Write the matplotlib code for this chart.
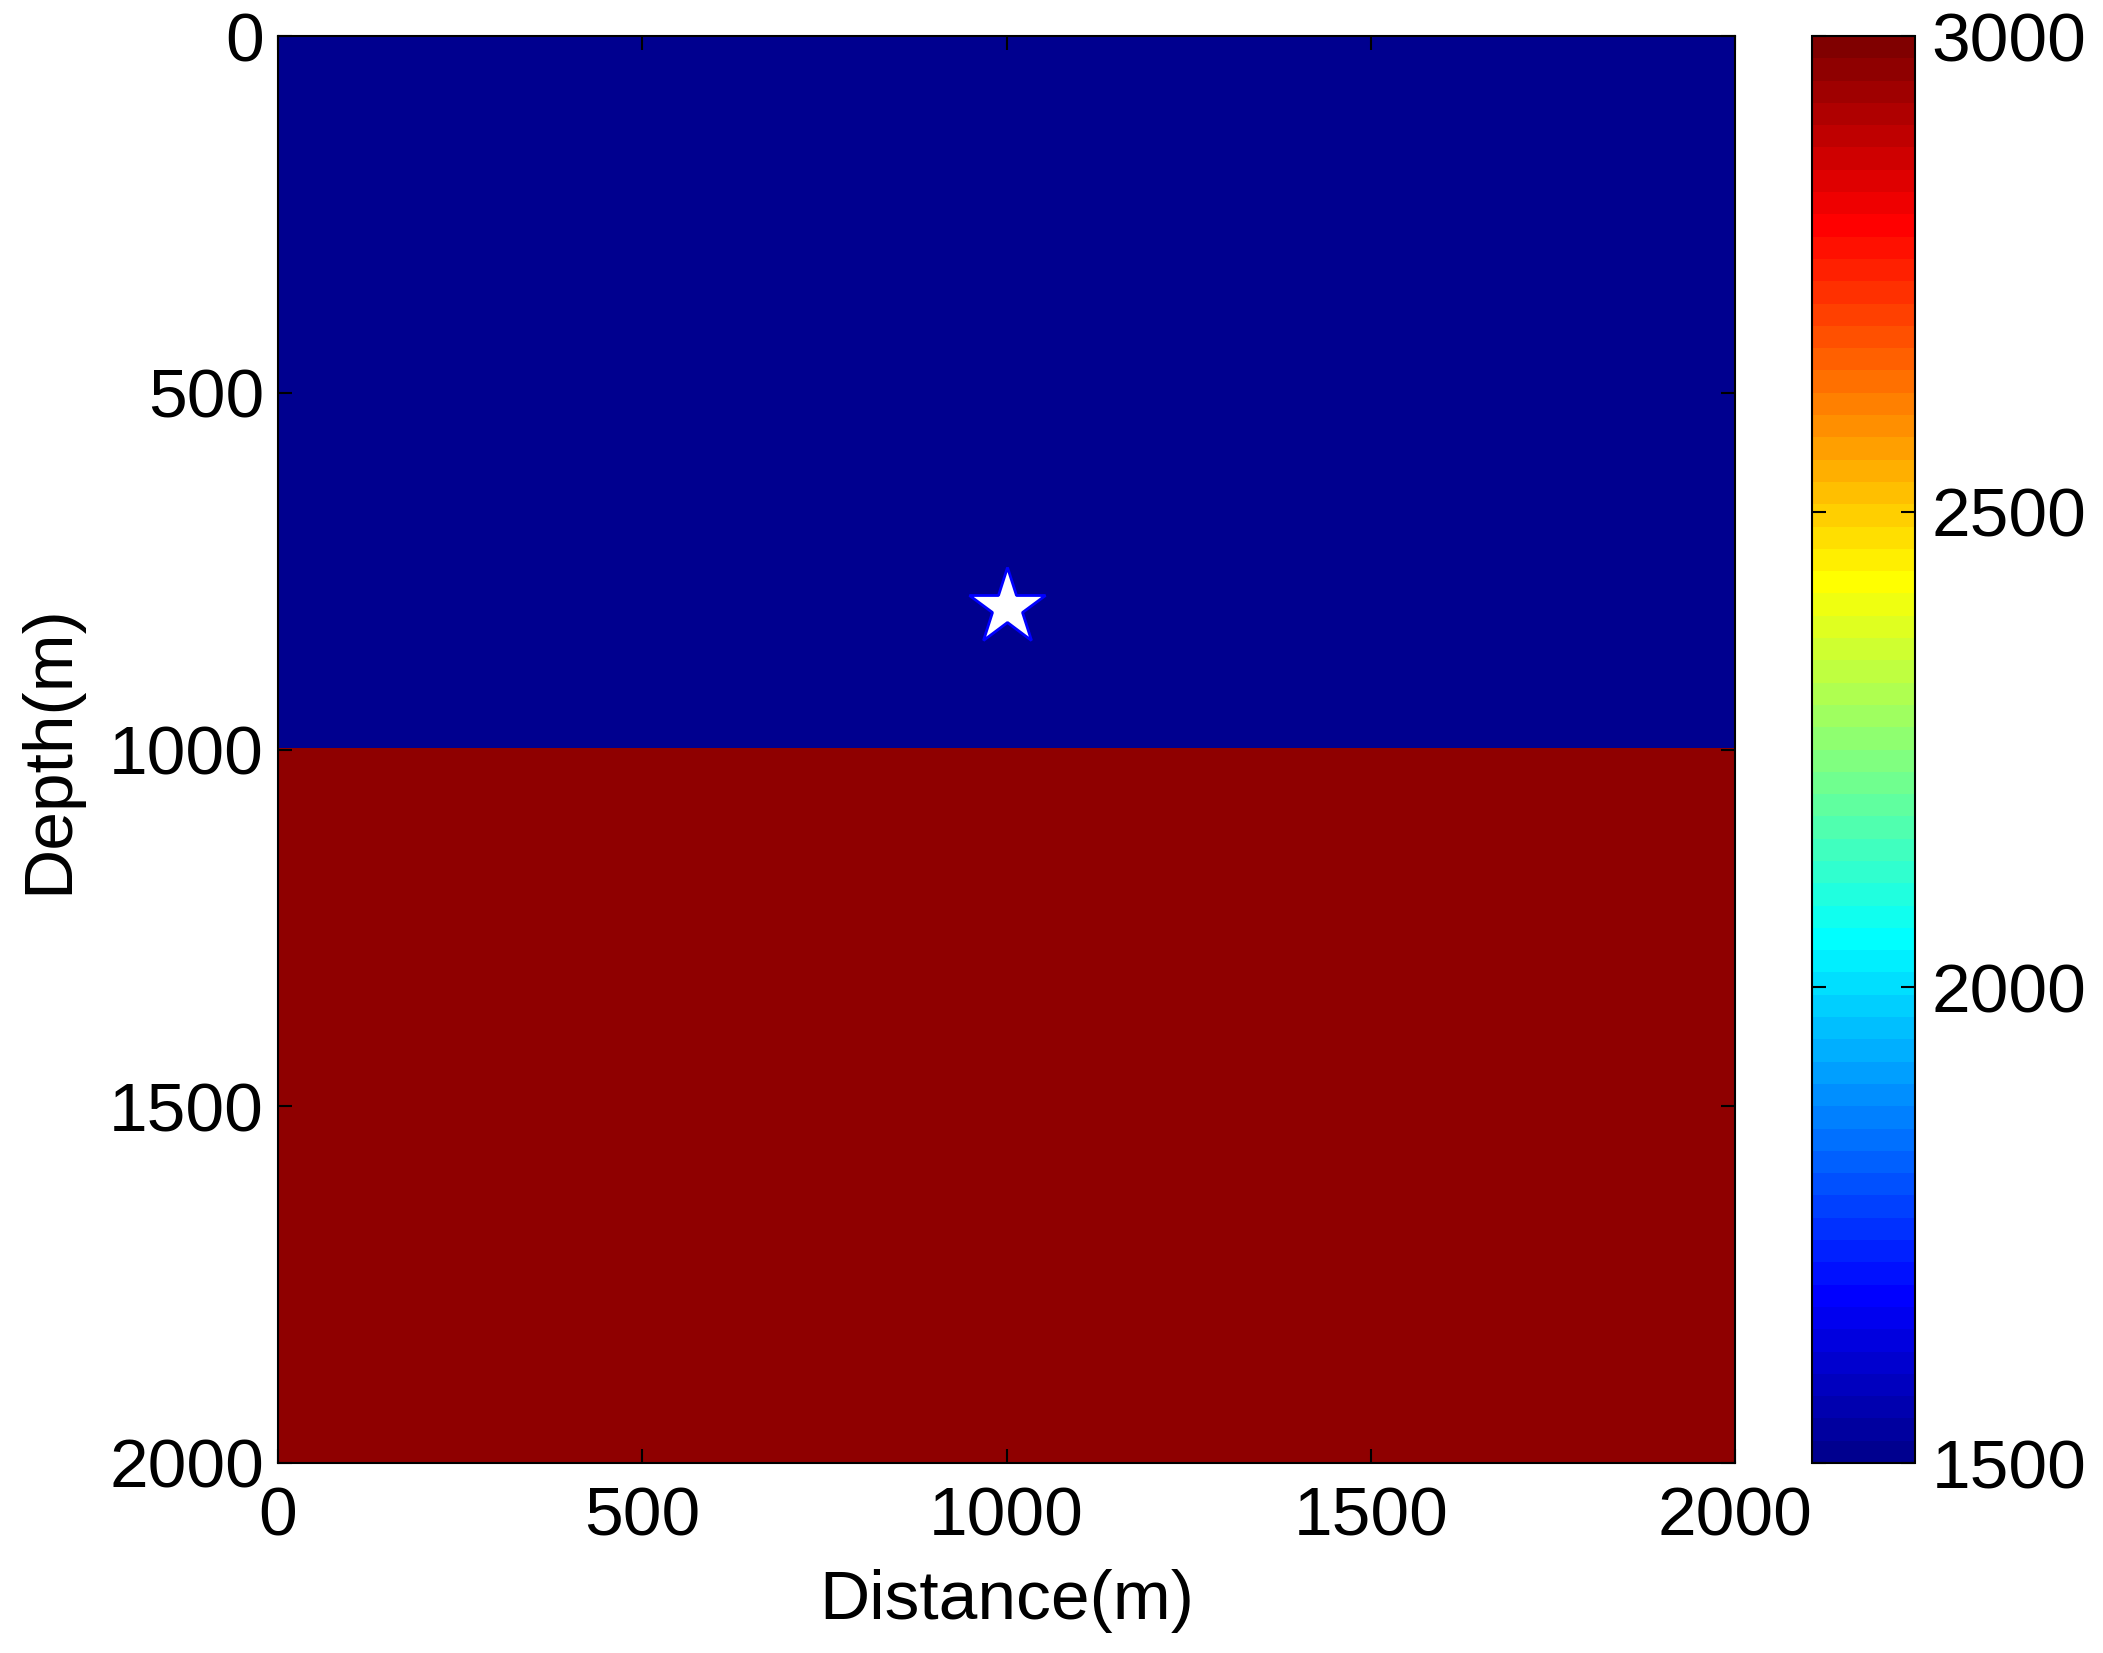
#!/usr/bin/env python3
"""two-layer velocity model with source position"""
import numpy as np
import matplotlib.pyplot as plt
from matplotlib.colors import ListedColormap

# model description
distance = [0, 2000]          # m
depth = [0, 2000]             # m
layer_top = [0, 1000]         # m
velocity = [1500, 2970]       # m/s
clim = [1500, 3000]
source_x = [1000]
source_z = [800]
xticks = [0, 500, 1000, 1500, 2000]
yticks = [0, 500, 1000, 1500, 2000]
cticks = [1500, 2000, 2500, 3000]

plt.rcParams['font.family'] = ['Liberation Sans', 'DejaVu Sans']


def matlab_jet(m=64):
    """jet colormap built the way MATLAB does it"""
    n = int(np.ceil(m / 4))
    u = np.concatenate([np.arange(1, n + 1) / n, np.ones(n - 1),
                        np.arange(n, 0, -1) / n])
    g = int(np.ceil(n / 2)) - (m % 4 == 1) + np.arange(1, len(u) + 1)
    r = g + n
    b = g - n
    cmap = np.zeros((m, 3))
    for col, idx in ((0, r), (1, g), (2, b)):
        keep = (idx >= 1) & (idx <= m)
        cmap[idx[keep] - 1, col] = u[keep]
    return ListedColormap(cmap)


# build the grid from the layer list
nz, nx = 401, 401
z = np.linspace(depth[0], depth[1], nz)
x = np.linspace(distance[0], distance[1], nx)
model = np.zeros((nz, nx))
for top, v in zip(layer_top, velocity):
    model[z >= top, :] = v

fig = plt.figure(figsize=(21.03, 16.53), dpi=100)
ax = fig.add_axes([278 / 2103, 1 - 1463 / 1653, (1735 - 278) / 2103, (1463 - 36) / 1653])
cax = fig.add_axes([1812 / 2103, 1 - 1463 / 1653, (1915 - 1812) / 2103, (1463 - 36) / 1653])

im = ax.imshow(model, cmap=matlab_jet(64), vmin=clim[0], vmax=clim[1],
               extent=[distance[0], distance[1], depth[1], depth[0]],
               aspect='auto', interpolation='nearest')
ax.plot(source_x, source_z, marker='*', markersize=58, color='white',
        markeredgecolor='#0000ff', markeredgewidth=2, linestyle='none')

ax.set_xlim(distance)
ax.set_ylim(depth[1], depth[0])
ax.set_xticks(xticks)
ax.set_yticks(yticks)
ax.tick_params(direction='in', length=10, width=1.5, labelsize=50,
               top=True, right=True, pad=10)
ax.tick_params(axis='x', pad=16)
for s in ax.spines.values():
    s.set_linewidth(1.5)
ax.set_xlabel('Distance(m)', fontsize=50, labelpad=14)
ax.set_ylabel('Depth(m)', fontsize=50, labelpad=20)

cb = fig.colorbar(im, cax=cax, ticks=cticks)
cb.ax.tick_params(direction='in', length=10, width=1.5, labelsize=50,
                  left=True, right=True, pad=12)
cb.outline.set_linewidth(1.5)

plt.savefig('out.png', dpi=100)
